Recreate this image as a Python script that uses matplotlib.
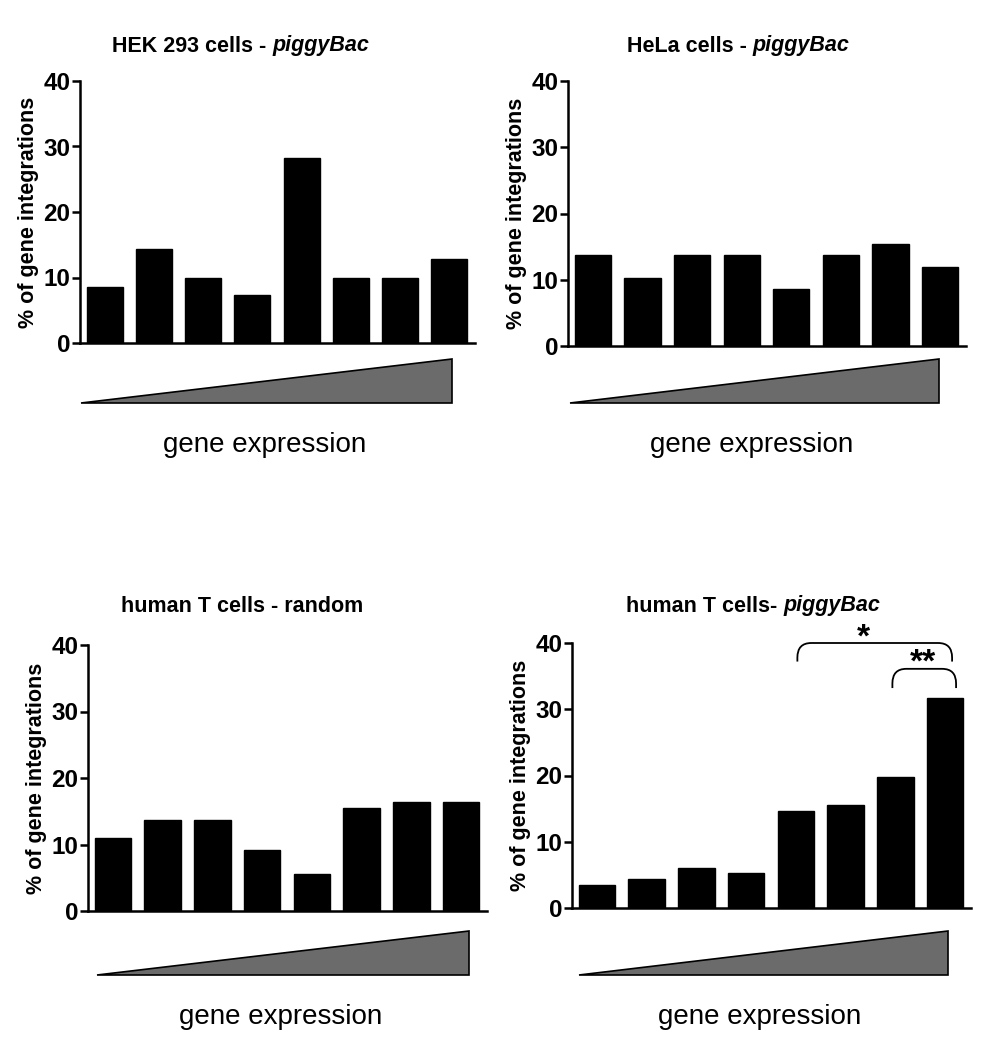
import numpy as np
import matplotlib
matplotlib.use("Agg")
import matplotlib.pyplot as plt
from matplotlib.path import Path
from matplotlib.patches import PathPatch, Polygon

plt.rcParams['font.family'] = ['Liberation Sans', 'DejaVu Sans']

# ---- data ----
bins = np.arange(8)  # gene-expression bins, low -> high
hek_piggybac = [8.6, 14.3, 10.0, 7.3, 28.3, 10.0, 10.0, 12.9]
hela_piggybac = [13.7, 10.3, 13.7, 13.7, 8.6, 13.7, 15.4, 12.0]
tcell_random = [11.0, 13.7, 13.7, 9.2, 5.6, 15.5, 16.4, 16.4]
tcell_piggybac = [3.5, 4.4, 6.1, 5.3, 14.7, 15.5, 19.8, 31.7]

titles = [
    ("HEK 293 cells - ", "piggyBac"),
    ("HeLa cells - ", "piggyBac"),
    ("human T cells - random", ""),
    ("human T cells- ", "piggyBac"),
]
ylabel = "% of gene integrations"
xlabel = "gene expression"
yticks = [0, 10, 20, 30, 40]

# ---- layout in pixels ----
W, H = 982, 1050
# (x_left, x_right, y_top(40), y_bottom(0))
axes_px = [(80, 475, 81, 343), (568, 966, 81, 346),
           (88, 487, 645, 911), (572, 971, 643, 908)]
# triangle: (x_left_data, x_right_data, y_top_px, y_bottom_px)
tri_px = [(-0.47, 7.05, 359, 403), (-0.45, 6.97, 359, 403),
          (-0.31, 7.15, 931, 975), (-0.36, 7.06, 931, 975)]
title_px = [(241, 46), (738, 46), (242, 606), (753, 606)]
xlabel_px = [(265, 445), (752, 445), (281, 1017), (760, 1017)]


def px_rect(x0, x1, yt, yb):
    return [x0 / W, 1 - yb / H, (x1 - x0) / W, (yb - yt) / H]


def bracket(ax, x0, x1, yt, yb, rx=0.28, ry=2.2):
    verts = [(x0, yb), (x0, yt - ry), (x0, yt), (x0 + rx, yt),
             (x1 - rx, yt), (x1, yt), (x1, yt - ry), (x1, yb)]
    codes = [Path.MOVETO, Path.LINETO, Path.CURVE3, Path.CURVE3,
             Path.LINETO, Path.CURVE3, Path.CURVE3, Path.LINETO]
    ax.add_patch(PathPatch(Path(verts, codes), facecolor="none",
                           edgecolor="black", lw=1.3, clip_on=False))


fig = plt.figure(figsize=(W / 100, H / 100), dpi=100)

datasets = [hek_piggybac, hela_piggybac, tcell_random, tcell_piggybac]
for i, vals in enumerate(datasets):
    ax = fig.add_axes(px_rect(*axes_px[i]))
    ax.bar(bins, vals, width=0.73, color="black", edgecolor="black")
    ax.set_xlim(-0.5, 7.52)
    ax.set_ylim(0, 40)
    ax.set_yticks(yticks)
    ax.set_yticklabels([str(t) for t in yticks], fontsize=17.5, fontweight="bold")
    ax.set_xticks([])
    ax.spines["top"].set_visible(False)
    ax.spines["right"].set_visible(False)
    for s in ("left", "bottom"):
        ax.spines[s].set_linewidth(1.8)
    ax.tick_params(axis="y", direction="out", length=6, width=1.8, pad=1)
    ax.set_ylabel(ylabel, fontsize=15.5, fontweight="bold", labelpad=3)

    # gradient triangle below the axis
    xl, xr, yt, yb = tri_px[i]
    tax = fig.add_axes(px_rect(axes_px[i][0], axes_px[i][1], yt, yb))
    tax.set_xlim(-0.5, 7.52)
    tax.set_ylim(0, 1)
    tax.axis("off")
    tax.add_patch(Polygon([(xl, 0), (xr, 0), (xr, 1)], closed=True,
                          facecolor="#6b6b6b", edgecolor="black", lw=1.2,
                          clip_on=False))

    # titles (bold part + bold italic part)
    plain, ital = titles[i]
    tx, ty = title_px[i]
    if ital:
        t1 = fig.text(0, 0, plain, fontsize=15.5, fontweight="bold")
        t2 = fig.text(0, 0, ital, fontsize=15.5, fontweight="bold", style="italic")
        r = fig.canvas.get_renderer()
        w1 = t1.get_window_extent(r).width
        w2 = t2.get_window_extent(r).width
        start = tx - (w1 + w2) / 2
        t1.set_position((start / W, 1 - ty / H))
        t1.set_va("center")
        t2.set_position(((start + w1) / W, 1 - ty / H))
        t2.set_va("center")
    else:
        fig.text(tx / W, 1 - ty / H, plain, fontsize=15.5, fontweight="bold",
                 ha="center", va="center")

    lx, ly = xlabel_px[i]
    fig.text(lx / W, 1 - ly / H, xlabel, fontsize=20, ha="center", va="center")

    if i == 3:
        bracket(ax, 4.03, 7.14, 40.0, 37.2)
        bracket(ax, 5.94, 7.22, 36.1, 33.2)
        ax.text(5.35, 40.8, "*", fontsize=24, fontweight="bold",
                ha="center", va="center")
        ax.text(6.55, 36.9, "**", fontsize=24, fontweight="bold",
                ha="center", va="center")

fig.savefig("out.png", dpi=100)
